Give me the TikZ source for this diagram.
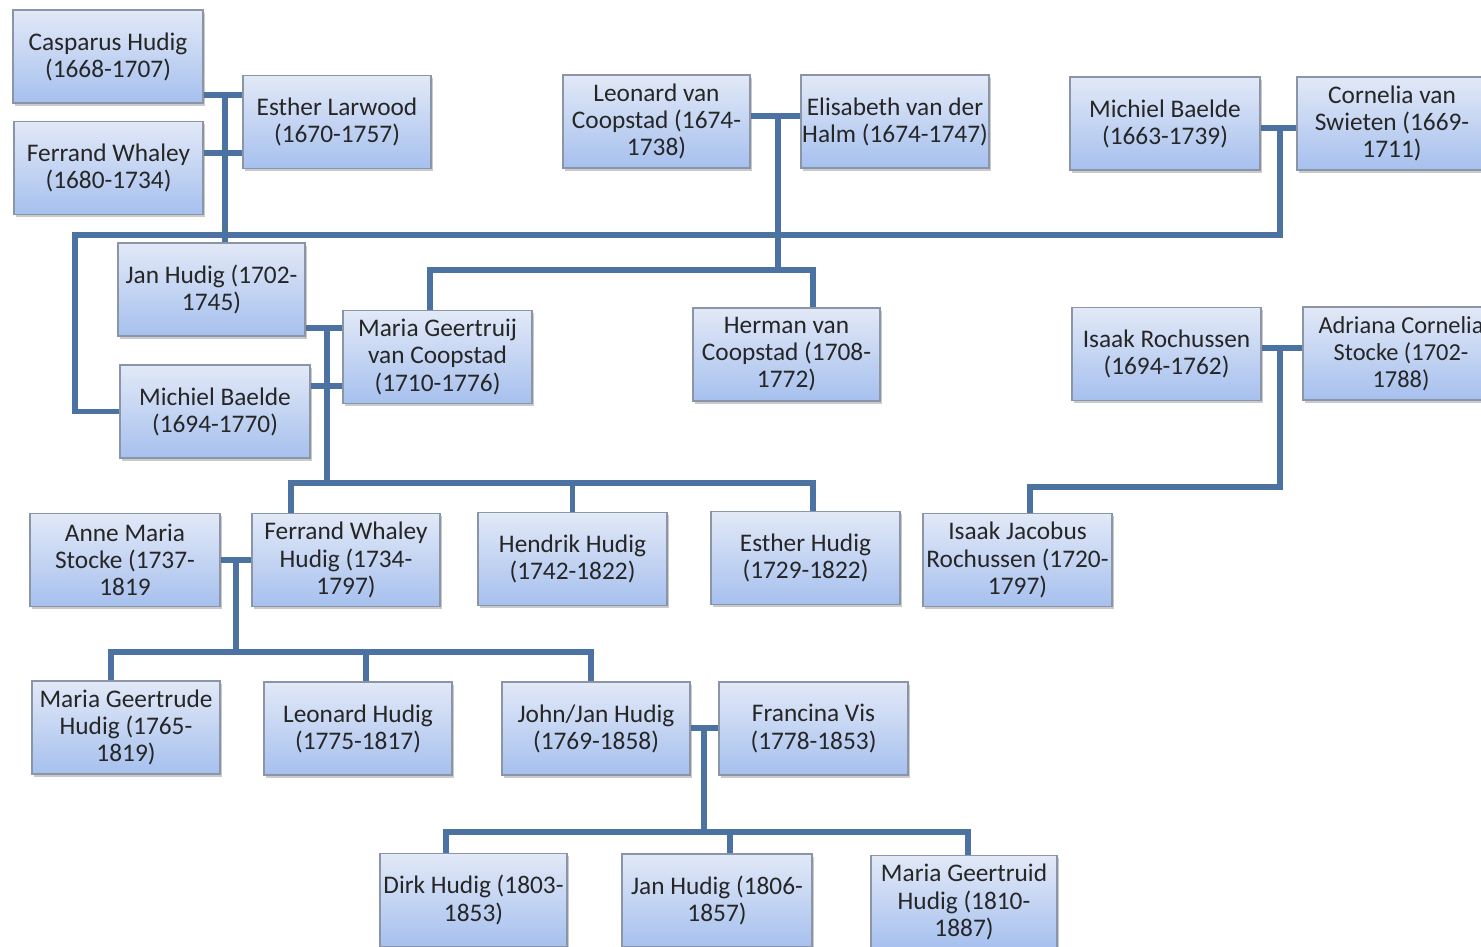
\documentclass[tikz,border=0pt]{standalone}
\usepackage{fontspec}
\setmainfont{Carlito}
\usetikzlibrary{shadows}
\definecolor{conncol}{HTML}{4C72A2}
\definecolor{boxtop}{HTML}{E2E9F7}
\definecolor{boxbot}{HTML}{A6C0EE}
\definecolor{boxdraw}{HTML}{8A96A8}
\definecolor{txtcol}{HTML}{262626}
\pgfdeclarelayer{bg}
\pgfsetlayers{bg,main}
\tikzset{
  person/.style={draw=boxdraw, line width=1.1pt, top color=boxtop, bottom color=boxbot,
    minimum width=#1*0.75pt, minimum height=70pt, inner sep=1pt, align=center,
    text=txtcol, font=\fontsize{19}{20.3}\selectfont,
    drop shadow={shadow xshift=1.5pt, shadow yshift=-2pt, opacity=0.35, fill=black!60}},
  person/.default=189,
  conn/.style={draw=conncol, line width=4.3pt},
}
\begin{document}
\begin{tikzpicture}[x=0.75pt,y=-0.75pt]
\useasboundingbox (0,0) rectangle (1481,946);
% generation 1
\node[person=190] (casp) at (108,56.5) {Casparus Hudig\\(1668-1707)};
\node[person=188] (esth) at (337,122) {Esther Larwood\\(1670-1757)};
\node[person=189] (ferr) at (108.5,168) {Ferrand Whaley\\(1680-1734)};
\node[person=187] (leon) at (656.5,121.5) {Leonard van\\Coopstad (1674-\\1738)};
\node[person=188] (elis) at (895,121.5) {Elisabeth van der\\Halm (1674-1747)};
\node[person=190] (mich) at (1165,123.5) {Michiel Baelde\\(1663-1739)};
\node[person=190] (corn) at (1392,123.5) {Cornelia van\\Swieten (1669-\\1711)};
% generation 2
\node[person=187] (jan1) at (211.5,289.5) {Jan Hudig (1702-\\1745)};
\node[person=189] (marg) at (437.5,357) {Maria Geertruij\\van Coopstad\\(1710-1776)};
\node[person=190] (mic2) at (215,411.5) {Michiel Baelde\\(1694-1770)};
\node[person=187] (herm) at (786.5,354.5) {Herman van\\Coopstad (1708-\\1772)};
\node[person=189] (isak) at (1166.5,354) {Isaak Rochussen\\(1694-1762)};
\node[person=196, font=\fontsize{18.3}{20.3}\selectfont] (adri) at (1401,353.5) {Adriana Cornelia\\Stocke (1702-\\1788)};
% generation 3
\node[person=190] (anne) at (125,560) {Anne Maria\\Stocke (1737-\\1819};
\node[person=188] (fwh) at (346,560) {Ferrand Whaley\\Hudig (1734-\\1797)};
\node[person=189] (hend) at (572.5,559) {Hendrik Hudig\\(1742-1822)};
\node[person=189] (esh) at (805.5,558) {Esther Hudig\\(1729-1822)};
\node[person=189] (ijr) at (1017.5,560) {Isaak Jacobus\\Rochussen (1720-\\1797)};
% generation 4
\node[person=188] (mgh) at (126,727.5) {Maria Geertrude\\Hudig (1765-\\1819)};
\node[person=188] (leoh) at (358,728.5) {Leonard Hudig\\(1775-1817)};
\node[person=188] (john) at (596,728.5) {John/Jan Hudig\\(1769-1858)};
\node[person=189] (fran) at (813.5,728.5) {Francina Vis\\(1778-1853)};
% generation 5
\node[person=187] (dirk) at (473.5,900) {Dirk Hudig (1803-\\1853)};
\node[person=190] (jan3) at (717,900.5) {Jan Hudig (1806-\\1857)};
\node[person=186] (mgd) at (964,902) {Maria Geertruid\\Hudig (1810-\\1887)};

% junction coordinates
\coordinate (jA) at (225,95);
\coordinate (jB) at (225,153);
\coordinate (bar1) at (75,235);
\coordinate (bar1r) at (1280,235);
\coordinate (jM) at (1280,128);
\coordinate (jL) at (778,116);
\coordinate (bar2) at (778,270);
\coordinate (jJ) at (327,328);
\coordinate (jK) at (327,386);
\coordinate (bar3) at (327,483);
\coordinate (jI) at (1280,348);
\coordinate (bar4) at (1280,487);
\coordinate (jS) at (236,560);
\coordinate (bar5) at (236,652);
\coordinate (jF) at (704,728);
\coordinate (bar6) at (704,832);

\begin{pgfonlayer}{bg}
% Casparus + Esther, Ferrand + Esther
\draw[conn] (casp.east|-jA) -- (esth.west|-jA);
\draw[conn] (ferr.east|-jB) -- (esth.west|-jB);
\draw[conn] (jA) -- (jan1.north-|jA);
% long bar
\draw[conn] (mic2.west) -| (bar1) -- (bar1r) -- (jM);
\draw[conn] (mich.east|-jM) -- (corn.west|-jM);
% Leonard + Elisabeth
\draw[conn] (leon.east|-jL) -- (elis.west|-jL);
\draw[conn] (jL) -- (bar2);
\draw[conn] (marg.north-|430,0) |- (bar2) -| (herm.north-|813,0);
% Jan / Michiel + Maria Geertruij
\draw[conn] (jan1.east|-jJ) -- (marg.west|-jJ);
\draw[conn] (mic2.east|-jK) -- (marg.west|-jK);
\draw[conn] (jJ) -- (bar3);
\draw[conn] (fwh.north-|291,0) |- (bar3) -| (esh.north-|813,0);
\draw[conn] (hend.north) -- (hend.north|-bar3);
% Isaak + Adriana
\draw[conn] (isak.east|-jI) -- (adri.west|-jI);
\draw[conn] (jI) -- (bar4) -| (ijr.north-|1030,0);
% Anne + Ferrand Whaley Hudig
\draw[conn] (anne.east|-jS) -- (fwh.west|-jS);
\draw[conn] (jS) -- (bar5);
\draw[conn] (mgh.north-|111,0) |- (bar5) -| (john.north-|591,0);
\draw[conn] (leoh.north-|366,0) -- (bar5-|366,0);
% John + Francina
\draw[conn] (john.east|-jF) -- (fran.west|-jF);
\draw[conn] (jF) -- (bar6);
\draw[conn] (dirk.north-|446,0) |- (bar6) -| (mgd.north-|968,0);
\draw[conn] (jan3.north-|730,0) -- (bar6-|730,0);
\end{pgfonlayer}
\end{tikzpicture}
\end{document}
